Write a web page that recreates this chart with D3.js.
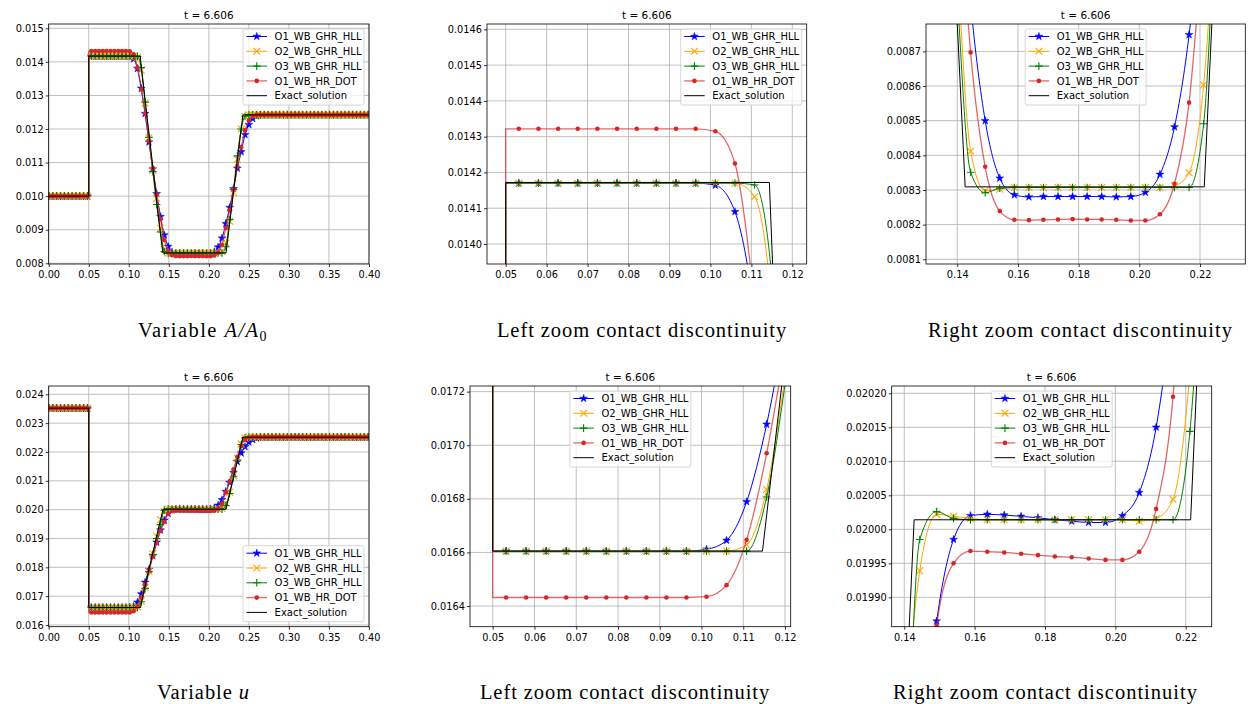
<!DOCTYPE html>
<html>
<head>
<meta charset="utf-8">
<script src="https://cdn.jsdelivr.net/npm/d3@7"></script>
<style>
  body { margin: 0; background: #fff; }
  svg { display: block; }
</style>
</head>
<body>
<svg id="fig" width="1256" height="704"></svg>
<script>
// ---------------------------------------------------------------
// Data: solution samples at the plotted cell centres (every 6th cell)
// ---------------------------------------------------------------
const timeLabel = "t = 6.606";
const contactX = 0.05;   // stationary contact (area jump)

const cellX = [
  0.0004, 0.0052, 0.0100, 0.0148, 0.0196, 0.0244, 0.0292, 0.0340, 0.0388, 0.0436,
  0.0484, 0.0532, 0.0580, 0.0628, 0.0676, 0.0724, 0.0772, 0.0820, 0.0868, 0.0916,
  0.0964, 0.1012, 0.1060, 0.1108, 0.1156, 0.1204, 0.1252, 0.1300, 0.1348, 0.1396,
  0.1444, 0.1492, 0.1540, 0.1588, 0.1636, 0.1684, 0.1732, 0.1780, 0.1828, 0.1876,
  0.1924, 0.1972, 0.2020, 0.2068, 0.2116, 0.2164, 0.2212, 0.2260, 0.2308, 0.2356,
  0.2404, 0.2452, 0.2500, 0.2548, 0.2596, 0.2644, 0.2692, 0.2740, 0.2788, 0.2836,
  0.2884, 0.2932, 0.2980, 0.3028, 0.3076, 0.3124, 0.3172, 0.3220, 0.3268, 0.3316,
  0.3364, 0.3412, 0.3460, 0.3508, 0.3556, 0.3604, 0.3652, 0.3700, 0.3748, 0.3796,
  0.3844, 0.3892, 0.3940, 0.3988
];

// A/A0
const areaO1GHR = [
  0.0100, 0.0100, 0.0100, 0.0100, 0.0100, 0.0100, 0.0100, 0.0100, 0.0100, 0.0100, 0.0100,
  0.01417, 0.01417, 0.01417, 0.01417, 0.01417, 0.01417, 0.01417, 0.01417, 0.01417, 0.01417,
  0.014164, 0.01409, 0.0138, 0.01321, 0.01246, 0.01161, 0.01081, 0.01007, 0.00939, 0.00884,
  0.00850, 0.008334, 0.008286, 0.00828, 0.008281, 0.008281, 0.008281, 0.008281, 0.008281, 0.00828,
  0.008281, 0.008293, 0.008345, 0.008482, 0.008748, 0.00918, 0.00966, 0.01022, 0.01083, 0.01132,
  0.01183, 0.01213, 0.01231, 0.01239,
  0.01242, 0.01242, 0.01242, 0.01242, 0.01242, 0.01242, 0.01242, 0.01242, 0.01242, 0.01242,
  0.01242, 0.01242, 0.01242, 0.01242, 0.01242, 0.01242, 0.01242, 0.01242, 0.01242, 0.01242,
  0.01242, 0.01242, 0.01242, 0.01242, 0.01242, 0.01242, 0.01242, 0.01242, 0.01242
];
const areaO2GHR = [
  0.0100, 0.0100, 0.0100, 0.0100, 0.0100, 0.0100, 0.0100, 0.0100, 0.0100, 0.0100, 0.0100,
  0.01417, 0.01417, 0.01417, 0.01417, 0.01417, 0.01417, 0.01417, 0.01417, 0.01417, 0.01417,
  0.01417, 0.01417,
  0.014132, 0.01375, 0.01277, 0.01174, 0.01077, 0.00994, 0.00904, 0.008412, 0.008298, 0.008302,
  0.008307, 0.008307, 0.008307, 0.008307, 0.008307, 0.008307, 0.008307, 0.008307, 0.008307, 0.008307, 0.008307,
  0.008312, 0.00835, 0.008603, 0.00925, 0.01010, 0.01110, 0.01200, 0.01237,
  0.01242, 0.01242, 0.01242, 0.01242, 0.01242, 0.01242, 0.01242, 0.01242, 0.01242, 0.01242,
  0.01242, 0.01242, 0.01242, 0.01242, 0.01242, 0.01242, 0.01242, 0.01242, 0.01242, 0.01242,
  0.01242, 0.01242, 0.01242, 0.01242, 0.01242, 0.01242, 0.01242, 0.01242, 0.01242, 0.01242,
  0.01242, 0.01242
];
const areaO3GHR = [
  0.0100, 0.0100, 0.0100, 0.0100, 0.0100, 0.0100, 0.0100, 0.0100, 0.0100, 0.0100, 0.0100,
  0.01417, 0.01417, 0.01417, 0.01417, 0.01417, 0.01417, 0.01417, 0.01417, 0.01417, 0.01417,
  0.01417, 0.01417, 0.014165,
  0.01383, 0.0128, 0.01175, 0.01073, 0.00975, 0.00893, 0.008351, 0.008292, 0.008305,
  0.008307, 0.008307, 0.008307, 0.008307, 0.008307, 0.008307, 0.008307, 0.008307, 0.008307, 0.008307,
  0.008307, 0.008307, 0.008307,
  0.008491, 0.0093, 0.0102, 0.0112, 0.0120, 0.01238,
  0.01242, 0.01242, 0.01242, 0.01242, 0.01242, 0.01242, 0.01242, 0.01242, 0.01242, 0.01242,
  0.01242, 0.01242, 0.01242, 0.01242, 0.01242, 0.01242, 0.01242, 0.01242, 0.01242, 0.01242,
  0.01242, 0.01242, 0.01242, 0.01242, 0.01242, 0.01242, 0.01242, 0.01242, 0.01242, 0.01242,
  0.01242, 0.01242
];
const areaO1HRDot = [
  0.0100, 0.0100, 0.0100, 0.0100, 0.0100, 0.0100, 0.0100, 0.0100, 0.0100, 0.0100, 0.0100,
  0.014322, 0.014322, 0.014322, 0.014322, 0.014322, 0.014322, 0.014322, 0.014322, 0.014322, 0.014322,
  0.014315, 0.014225, 0.01383, 0.01318, 0.01246, 0.01165, 0.01084, 0.01005, 0.00932, 0.008697,
  0.008367, 0.008239, 0.008214, 0.008213, 0.008214, 0.008215, 0.008216, 0.008215, 0.008215, 0.008214,
  0.008212, 0.008212, 0.00823, 0.008318, 0.008552, 0.00905, 0.00958, 0.01020, 0.01088, 0.01146,
  0.01196, 0.01226, 0.01238,
  0.01242, 0.01242, 0.01242, 0.01242, 0.01242, 0.01242, 0.01242, 0.01242, 0.01242, 0.01242,
  0.01242, 0.01242, 0.01242, 0.01242, 0.01242, 0.01242, 0.01242, 0.01242, 0.01242, 0.01242,
  0.01242, 0.01242, 0.01242, 0.01242, 0.01242, 0.01242, 0.01242, 0.01242, 0.01242, 0.01242
];
const areaExactX = [0, 0.05, 0.05, 0.1144, 0.1152, 0.1285, 0.1400, 0.1426, 0.2214, 0.2239, 0.2425, 0.4];
const areaExactY = [0.0100, 0.0100, 0.014172, 0.014172, 0.01394, 0.0112, 0.008779, 0.008309, 0.008309, 0.008779, 0.01242, 0.01242];

// u
const velO1GHR = [
  0.02352, 0.02352, 0.02352, 0.02352, 0.02352, 0.02352, 0.02352, 0.02352, 0.02352, 0.02352, 0.02352,
  0.016605, 0.016605, 0.016605, 0.016605, 0.016605, 0.016605, 0.016605, 0.016605, 0.016605, 0.016605,
  0.016612, 0.016645, 0.016789, 0.017078, 0.01748, 0.01792, 0.01840, 0.01887, 0.01929, 0.01963,
  0.019865, 0.019985, 0.02002, 0.020022, 0.020021, 0.020019, 0.020017, 0.020014, 0.020012, 0.02001,
  0.02001, 0.02002, 0.020054, 0.02015, 0.02034, 0.02063, 0.02094, 0.02129, 0.02166, 0.02196,
  0.02218, 0.02234, 0.02243, 0.02248,
  0.022515, 0.022515, 0.022515, 0.022515, 0.022515, 0.022515, 0.022515, 0.022515, 0.022515, 0.022515,
  0.022515, 0.022515, 0.022515, 0.022515, 0.022515, 0.022515, 0.022515, 0.022515, 0.022515, 0.022515,
  0.022515, 0.022515, 0.022515, 0.022515, 0.022515, 0.022515, 0.022515, 0.022515, 0.022515
];
const velO2GHR = [
  0.02352, 0.02352, 0.02352, 0.02352, 0.02352, 0.02352, 0.02352, 0.02352, 0.02352, 0.02352, 0.02352,
  0.016605, 0.016605, 0.016605, 0.016605, 0.016605, 0.016605, 0.016605, 0.016605, 0.016605, 0.016605,
  0.016605, 0.016605,
  0.016629, 0.016835, 0.01730, 0.01786, 0.01847, 0.01908, 0.01965, 0.019939, 0.020022, 0.020019, 0.020016,
  0.020014, 0.020014, 0.020014, 0.020014, 0.020014, 0.020014, 0.020014, 0.020014, 0.020014,
  0.020012, 0.020016, 0.020044, 0.020229, 0.0206, 0.02118, 0.02178, 0.02228, 0.02248,
  0.022515, 0.022515, 0.022515, 0.022515, 0.022515, 0.022515, 0.022515, 0.022515, 0.022515, 0.022515,
  0.022515, 0.022515, 0.022515, 0.022515, 0.022515, 0.022515, 0.022515, 0.022515, 0.022515, 0.022515,
  0.022515, 0.022515, 0.022515, 0.022515, 0.022515, 0.022515, 0.022515, 0.022515, 0.022515, 0.022515,
  0.022515, 0.022515
];
const velO3GHR = [
  0.02352, 0.02352, 0.02352, 0.02352, 0.02352, 0.02352, 0.02352, 0.02352, 0.02352, 0.02352, 0.02352,
  0.016605, 0.016605, 0.016605, 0.016605, 0.016605, 0.016605, 0.016605, 0.016605, 0.016605, 0.016605,
  0.016605, 0.016605, 0.016605,
  0.016807, 0.01727, 0.01785, 0.01845, 0.01900, 0.01948, 0.019985, 0.020026, 0.020016,
  0.020014, 0.020014, 0.020014, 0.020014, 0.020014, 0.020014, 0.020014, 0.020014, 0.020014, 0.020014,
  0.020014, 0.020014, 0.020014,
  0.020144, 0.02056, 0.02114, 0.02172, 0.02226, 0.02249,
  0.022515, 0.022515, 0.022515, 0.022515, 0.022515, 0.022515, 0.022515, 0.022515, 0.022515, 0.022515,
  0.022515, 0.022515, 0.022515, 0.022515, 0.022515, 0.022515, 0.022515, 0.022515, 0.022515, 0.022515,
  0.022515, 0.022515, 0.022515, 0.022515, 0.022515, 0.022515, 0.022515, 0.022515, 0.022515, 0.022515,
  0.022515, 0.022515
];
const velO1HRDot = [
  0.02352, 0.02352, 0.02352, 0.02352, 0.02352, 0.02352, 0.02352, 0.02352, 0.02352, 0.02352, 0.02352,
  0.016432, 0.016432, 0.016432, 0.016432, 0.016432, 0.016432, 0.016432, 0.016432, 0.016432, 0.016432,
  0.016435, 0.016478, 0.016647, 0.01697, 0.01740, 0.01788, 0.01837, 0.01884, 0.01926, 0.01958,
  0.019858, 0.01995, 0.019968, 0.019967, 0.019966, 0.019964, 0.019962, 0.01996, 0.019959, 0.019957,
  0.019955, 0.019955, 0.019967, 0.02003, 0.020195, 0.0206, 0.02098, 0.0214, 0.02183, 0.0222,
  0.02242, 0.0225,
  0.022515, 0.022515, 0.022515, 0.022515, 0.022515, 0.022515, 0.022515, 0.022515, 0.022515, 0.022515,
  0.022515, 0.022515, 0.022515, 0.022515, 0.022515, 0.022515, 0.022515, 0.022515, 0.022515, 0.022515,
  0.022515, 0.022515, 0.022515, 0.022515, 0.022515, 0.022515, 0.022515, 0.022515, 0.022515, 0.022515,
  0.022515
];
const velExactX = [0, 0.05, 0.05, 0.1146, 0.1192, 0.1414, 0.1428, 0.2214, 0.2231, 0.2425, 0.4];
const velExactY = [0.02352, 0.02352, 0.016605, 0.016605, 0.017221, 0.019857, 0.020014, 0.020014, 0.020211, 0.022515, 0.022515];

// Legend labels, in drawing order
const schemeNames = ["O1_WB_GHR_HLL", "O2_WB_GHR_HLL", "O3_WB_GHR_HLL", "O1_WB_HR_DOT"];
const exactName = "Exact_solution";

// Tick values
const xTicksFull  = [0, 0.05, 0.10, 0.15, 0.20, 0.25, 0.30, 0.35, 0.40];
const xTicksLeft  = [0.05, 0.06, 0.07, 0.08, 0.09, 0.10, 0.11, 0.12];
const xTicksRight = [0.14, 0.16, 0.18, 0.20, 0.22];
const yTicksArea      = [0.008, 0.009, 0.010, 0.011, 0.012, 0.013, 0.014, 0.015];
const yTicksAreaLeft  = [0.0140, 0.0141, 0.0142, 0.0143, 0.0144, 0.0145, 0.0146];
const yTicksAreaRight = [0.0081, 0.0082, 0.0083, 0.0084, 0.0085, 0.0086, 0.0087];
const yTicksVel       = [0.016, 0.017, 0.018, 0.019, 0.020, 0.021, 0.022, 0.023, 0.024];
const yTicksVelLeft   = [0.0164, 0.0166, 0.0168, 0.0170, 0.0172];
const yTicksVelRight  = [0.01990, 0.01995, 0.02000, 0.02005, 0.02010, 0.02015, 0.02020];

// ---------------------------------------------------------------
// Styles
// ---------------------------------------------------------------
const schemeStyles = [
  { color: "#0000ff", marker: "star" },
  { color: "#ffa500", marker: "x" },
  { color: "#008000", marker: "plus" },
  { color: "#d62728", marker: "dot", lineOpacity: 0.7, lineWidth: 1.3 }
];

const areaSeries = [areaO1GHR, areaO2GHR, areaO3GHR, areaO1HRDot];
const velSeries  = [velO1GHR, velO2GHR, velO3GHR, velO1HRDot];

const panels = [
  { series: areaSeries, exX: areaExactX, exY: areaExactY,
    px: [48.7, 369], py: [24, 264], xd: [0, 0.4], yd: [0.007979, 0.015128],
    xt: xTicksFull, yt: yTicksArea, xf: ".2f", yf: ".3f", legend: "upper right",
    caption: [["Variable ", ""], ["A/A", "i"], ["0", "sub"]], capX: 203, capY: 337, capW: 130 },
  { series: areaSeries, exX: areaExactX, exY: areaExactY,
    px: [487, 806.7], py: [24, 264], xd: [0.045434, 0.123516], yd: [0.013944, 0.014615],
    xt: xTicksLeft, yt: yTicksAreaLeft, xf: ".2f", yf: ".4f", legend: "upper right",
    caption: [["Left zoom contact discontinuity", ""]], capX: 642, capY: 337, capW: 290 },
  { series: areaSeries, exX: areaExactX, exY: areaExactY,
    px: [926, 1245.3], py: [24, 264], xd: [0.12969, 0.23493], yd: [0.0080864, 0.008779],
    xt: xTicksRight, yt: yTicksAreaRight, xf: ".2f", yf: ".4f", legend: "upper center",
    caption: [["Right zoom contact discontinuity", ""]], capX: 1080.5, capY: 337, capW: 305 },
  { series: velSeries, exX: velExactX, exY: velExactY,
    px: [48.7, 369], py: [386, 626.7], xd: [0, 0.4], yd: [0.015941, 0.024288],
    xt: xTicksFull, yt: yTicksVel, xf: ".2f", yf: ".3f", legend: "lower right",
    caption: [["Variable ", ""], ["u", "i"]], capX: 203.5, capY: 699, capW: 93 },
  { series: velSeries, exX: velExactX, exY: velExactY,
    px: [470, 790.7], py: [386, 626.7], xd: [0.04456, 0.12136], yd: [0.016323, 0.017221],
    xt: xTicksLeft, yt: yTicksVelLeft, xf: ".2f", yf: ".4f", legend: "upper center",
    caption: [["Left zoom contact discontinuity", ""]], capX: 625, capY: 699, capW: 290 },
  { series: velSeries, exX: velExactX, exY: velExactY,
    px: [891.7, 1211.7], py: [386, 626.7], xd: [0.13642, 0.22739], yd: [0.0198568, 0.0202107],
    xt: xTicksRight, yt: yTicksVelRight, xf: ".2f", yf: ".5f", legend: "upper center",
    caption: [["Right zoom contact discontinuity", ""]], capX: 1045.5, capY: 699, capW: 305 }
];

// ---------------------------------------------------------------
// Drawing
// ---------------------------------------------------------------
const svg = d3.select("#fig");
const FONT = "DejaVu Sans, sans-serif";

function drawMarker(sel, kind, color) {
  if (kind === "star") {
    sel.append("path").attr("d", d3.symbol(d3.symbolStar, 19)()).attr("fill", color)
       .attr("stroke", color).attr("stroke-width", 0.5);
  } else if (kind === "x") {
    sel.append("path").attr("d", "M-3.4,-3.4L3.4,3.4M-3.4,3.4L3.4,-3.4").attr("stroke", color)
       .attr("stroke-width", 1.1).attr("fill", "none");
  } else if (kind === "plus") {
    sel.append("path").attr("d", "M-3.8,0H3.8M0,-3.8V3.8").attr("stroke", color)
       .attr("stroke-width", 1.1).attr("fill", "none");
  } else {
    sel.append("circle").attr("r", 2.3).attr("fill", color);
  }
}

panels.forEach((P, pi) => {
  const x = d3.scaleLinear().domain(P.xd).range(P.px);
  const y = d3.scaleLinear().domain(P.yd).range([P.py[1], P.py[0]]);
  const g = svg.append("g");
  const clipId = "clip" + pi;
  g.append("clipPath").attr("id", clipId).append("rect")
    .attr("x", P.px[0]).attr("y", P.py[0])
    .attr("width", P.px[1] - P.px[0]).attr("height", P.py[1] - P.py[0]);

  // grid
  const grid = g.append("g").attr("stroke", "#b0b0b0").attr("stroke-width", 0.8);
  grid.selectAll(".gx").data(P.xt).join("line")
    .attr("x1", d => x(d)).attr("x2", d => x(d)).attr("y1", P.py[0]).attr("y2", P.py[1]);
  grid.selectAll(".gy").data(P.yt).join("line")
    .attr("y1", d => y(d)).attr("y2", d => y(d)).attr("x1", P.px[0]).attr("x2", P.px[1]);

  const plot = g.append("g").attr("clip-path", `url(#${clipId})`);
  const lineGen = d3.line().x(p => x(p[0])).y(p => y(p[1])).curve(d3.curveMonotoneX);

  P.series.forEach((vals, si) => {
    const st = schemeStyles[si];
    const pts = cellX.map((xx, i) => [xx, vals[i]]);
    const left = pts.filter(p => p[0] < contactX);
    const right = pts.filter(p => p[0] > contactX);
    left.push([contactX, left[left.length - 1][1]]);
    right.unshift([contactX, right[0][1]]);
    const d = lineGen(left) + "L" + lineGen(right).slice(1);
    plot.append("path").attr("d", d).attr("fill", "none")
      .attr("stroke", st.color).attr("stroke-width", st.lineWidth || 1)
      .attr("stroke-opacity", st.lineOpacity || 1);
    const mg = plot.append("g");
    pts.forEach(p => {
      const m = mg.append("g").attr("transform", `translate(${x(p[0])},${y(p[1])})`);
      drawMarker(m, st.marker, st.color);
    });
  });

  // exact solution
  const exPts = P.exX.map((xx, i) => [xx, P.exY[i]]);
  plot.append("path").attr("d", d3.line().x(p => x(p[0])).y(p => y(p[1]))(exPts))
    .attr("fill", "none").attr("stroke", "#000").attr("stroke-width", 1);

  // axes
  const ax = g.append("g").attr("transform", `translate(0,${P.py[1]})`)
    .call(d3.axisBottom(x).tickValues(P.xt).tickFormat(d3.format(P.xf)).tickSize(3).tickPadding(4));
  const ay = g.append("g").attr("transform", `translate(${P.px[0]},0)`)
    .call(d3.axisLeft(y).tickValues(P.yt).tickFormat(d3.format(P.yf)).tickSize(3).tickPadding(2));
  [ax, ay].forEach(a => {
    a.select(".domain").remove();
    a.attr("font-family", FONT).attr("font-size", 9.8);
    a.selectAll("line").attr("stroke-width", 0.8);
    a.selectAll("text").attr("fill", "#000");
  });

  // frame
  g.append("rect").attr("x", P.px[0]).attr("y", P.py[0])
    .attr("width", P.px[1] - P.px[0]).attr("height", P.py[1] - P.py[0])
    .attr("fill", "none").attr("stroke", "#000").attr("stroke-width", 0.8);

  // title
  g.append("text").attr("x", (P.px[0] + P.px[1]) / 2).attr("y", P.py[0] - 5.5)
    .attr("text-anchor", "middle").attr("font-family", FONT).attr("font-size", 10.5)
    .text(timeLabel);

  // legend
  const lw = 121, lh = 76;
  let lx, ly;
  if (P.legend === "upper right") { lx = P.px[1] - 5 - lw; ly = P.py[0] + 5; }
  else if (P.legend === "upper center") { lx = (P.px[0] + P.px[1]) / 2 - lw / 2; ly = P.py[0] + 5; }
  else { lx = P.px[1] - 5 - lw; ly = P.py[1] - 5 - lh; }
  const lg = g.append("g").attr("transform", `translate(${lx},${ly})`);
  lg.append("rect").attr("width", lw).attr("height", lh).attr("rx", 2)
    .attr("fill", "#fff").attr("fill-opacity", 0.8).attr("stroke", "#cccccc").attr("stroke-width", 0.8);
  const entries = schemeNames.map((n, i) => ({ name: n, st: schemeStyles[i] }))
    .concat([{ name: exactName, st: { color: "#000" } }]);
  entries.forEach((e, i) => {
    const ry = 7.5 + i * 14.8;
    lg.append("line").attr("x1", 3.5).attr("x2", 24).attr("y1", ry).attr("y2", ry)
      .attr("stroke", e.st.color).attr("stroke-width", e.st.lineWidth || 1)
      .attr("stroke-opacity", e.st.lineOpacity || 1);
    if (e.st.marker) {
      const m = lg.append("g").attr("transform", `translate(13.75,${ry})`);
      drawMarker(m, e.st.marker, e.st.color);
    }
    lg.append("text").attr("x", 31.6).attr("y", ry).attr("dy", "0.36em")
      .attr("font-family", FONT).attr("font-size", 10).text(e.name);
  });

  // caption below the panel
  const cap = svg.append("text").attr("x", P.capX).attr("y", P.capY)
    .attr("text-anchor", "middle").attr("font-family", "Liberation Serif, serif")
    .attr("font-size", 20.5).attr("fill", "#000");
  P.caption.forEach(([t, kind]) => {
    const ts = cap.append("tspan").text(t);
    if (kind === "i") ts.attr("font-style", "italic");
    if (kind === "sub") ts.attr("font-size", 14).attr("dy", 4);
  });
  const n = P.caption.map(c => c[0]).join("").length;
  const w = cap.node().getComputedTextLength();
  cap.attr("letter-spacing", ((P.capW - w) / n).toFixed(2));
});
</script>
</body>
</html>
